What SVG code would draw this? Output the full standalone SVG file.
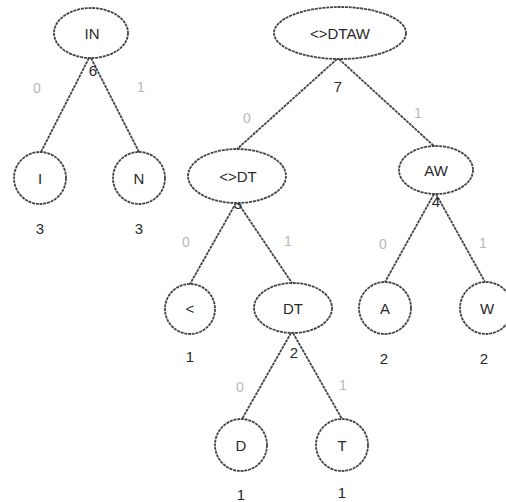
<svg xmlns="http://www.w3.org/2000/svg" width="506" height="502" viewBox="0 0 506 502">
  <style>
    .node { fill: #ffffff; stroke: #444444; stroke-width: 1.8; stroke-dasharray: 3 0.8; }
    .edge { stroke: #444444; stroke-width: 1.8; stroke-dasharray: 3 0.8; fill: none; }
    .label { font-family: "Liberation Sans", Arial, sans-serif; font-size: 15px; fill: #2a2a2a; text-anchor: middle; dominant-baseline: central; }
    .weight { font-family: "Liberation Sans", Arial, sans-serif; font-size: 15px; fill: #2a2a2a; text-anchor: middle; dominant-baseline: central; }
    .bit { font-family: "Liberation Sans", Arial, sans-serif; font-size: 14px; fill: #b8b8b8; text-anchor: middle; dominant-baseline: central; }
  </style>
  <rect width="506" height="502" fill="#ffffff"/>

  <!-- connectors and their bit / weight labels -->
  <g id="connectors">
    <line class="edge" x1="89" y1="58" x2="41" y2="152"/>
    <line class="edge" x1="91" y1="58" x2="139" y2="152"/>
    <line class="edge" x1="337" y1="59" x2="236" y2="150"/>
    <line class="edge" x1="339" y1="59" x2="435" y2="147"/>
    <line class="edge" x1="236" y1="203" x2="190" y2="284"/>
    <line class="edge" x1="238" y1="203" x2="292" y2="283"/>
    <line class="edge" x1="434" y1="194" x2="385" y2="282"/>
    <line class="edge" x1="436" y1="194" x2="485" y2="282"/>
    <line class="edge" x1="291" y1="333" x2="242" y2="419"/>
    <line class="edge" x1="293" y1="333" x2="342" y2="419"/>

    <text class="bit" x="37" y="88">0</text>
    <text class="bit" x="141" y="87">1</text>
    <text class="bit" x="247" y="118">0</text>
    <text class="bit" x="418" y="113">1</text>
    <text class="bit" x="186" y="242">0</text>
    <text class="bit" x="288" y="241">1</text>
    <text class="bit" x="383" y="244">0</text>
    <text class="bit" x="483" y="243">1</text>
    <text class="bit" x="240" y="387">0</text>
    <text class="bit" x="343" y="385">1</text>

    <text class="weight" x="93" y="70">6</text>
    <text class="weight" x="338" y="86">7</text>
    <text class="weight" x="238" y="203">3</text>
    <text class="weight" x="436" y="201">4</text>
    <text class="weight" x="294" y="352">2</text>
  </g>

  <g id="n-IN">
    <ellipse class="node" cx="91" cy="33" rx="37" ry="25"/>
    <text class="label" x="92" y="33">IN</text>
  </g>
  <g id="n-I">
    <circle class="node" cx="40" cy="178" r="26"/>
    <text class="label" x="40" y="178">I</text>
    <text class="weight" x="40" y="228">3</text>
  </g>
  <g id="n-N">
    <circle class="node" cx="139" cy="178" r="26"/>
    <text class="label" x="139" y="178">N</text>
    <text class="weight" x="139" y="228">3</text>
  </g>
  <g id="n-LTGTDTAW">
    <ellipse class="node" cx="340" cy="33" rx="66" ry="26"/>
    <text class="label" x="340" y="33">&lt;&gt;DTAW</text>
  </g>
  <g id="n-LTGTDT">
    <ellipse class="node" cx="237" cy="176" rx="49" ry="27"/>
    <text class="label" x="238" y="176">&lt;&gt;DT</text>
  </g>
  <g id="n-AW">
    <ellipse class="node" cx="436" cy="170" rx="37" ry="24"/>
    <text class="label" x="436" y="170">AW</text>
  </g>
  <g id="n-LT">
    <circle class="node" cx="190" cy="309" r="25"/>
    <text class="label" x="190" y="308">&lt;</text>
    <text class="weight" x="190" y="356">1</text>
  </g>
  <g id="n-DT">
    <ellipse class="node" cx="293" cy="308" rx="39" ry="25"/>
    <text class="label" x="293" y="308">DT</text>
  </g>
  <g id="n-A">
    <circle class="node" cx="385" cy="308" r="26"/>
    <text class="label" x="385" y="308">A</text>
    <text class="weight" x="384" y="358">2</text>
  </g>
  <g id="n-W">
    <circle class="node" cx="486" cy="308" r="26"/>
    <text class="label" x="487" y="308">W</text>
    <text class="weight" x="484" y="358">2</text>
  </g>
  <g id="n-D">
    <circle class="node" cx="241" cy="445" r="26"/>
    <text class="label" x="241" y="445">D</text>
    <text class="weight" x="241" y="494">1</text>
  </g>
  <g id="n-T">
    <circle class="node" cx="342" cy="445" r="26"/>
    <text class="label" x="342" y="445">T</text>
    <text class="weight" x="342" y="492">1</text>
  </g>
</svg>
